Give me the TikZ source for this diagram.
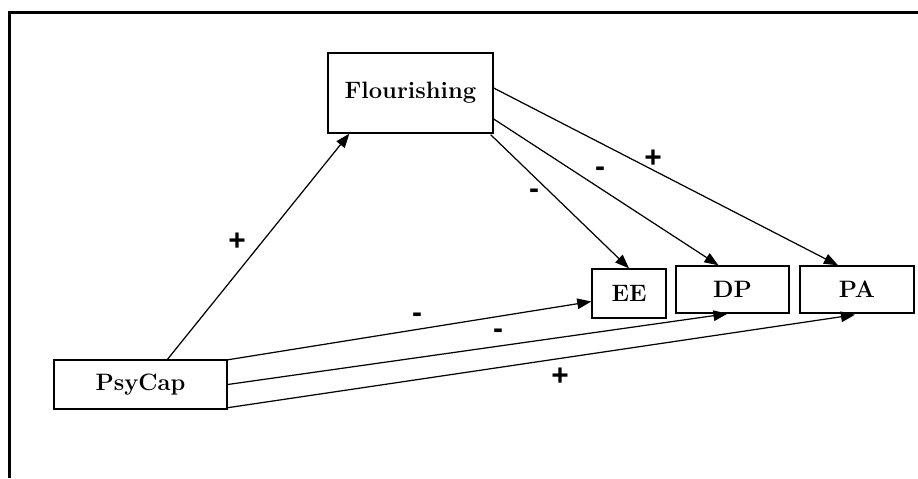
\documentclass[tikz,border=0pt]{standalone}
\usepackage{fontspec}
\newfontfamily\signfont{Liberation Sans}
\usetikzlibrary{arrows.meta,positioning,calc}

\begin{document}
\begin{tikzpicture}[
    x=0.02cm, y=-0.02cm,
    varnode/.style={draw, line width=0.8pt, font=\fontsize{13.5}{16}\selectfont\bfseries, inner sep=0pt},
    pathline/.style={line width=0.7pt, -{Triangle[length=8pt,width=6pt]}},
    signnode/.style={font=\signfont\bfseries\fontsize{17}{19}\selectfont, inner sep=0pt}
]
\useasboundingbox (0,0) rectangle (918,478);

% Frame (top and left only)
\draw[line width=1.2pt] (9.5,478) -- (9.5,12.5) -- (918,12.5);

% Variables
\node[varnode, minimum width=3.3cm, minimum height=1.6cm] (flour) at (410.5,93) {Flourishing};
\node[varnode, minimum width=3.46cm, minimum height=0.98cm] (psycap) at (140.5,384.5) {PsyCap};
\node[varnode, minimum width=1.48cm, minimum height=0.98cm] (ee) at (629,293.5) {EE};
\node[varnode, minimum width=2.26cm, minimum height=0.94cm] (dp) at (732.5,289.5) {DP};
\node[varnode, minimum width=2.28cm, minimum height=0.94cm] (pa) at (857,289.5) {PA};

% PsyCap -> Flourishing
\draw[pathline] ($(psycap.north)+(27,0)$) -- ($(flour.south west)+(22,0)$);

% Flourishing -> outcomes
\draw[pathline] ($(flour.south east)+(-3,1)$) -- (ee.north);
\draw[pathline] ($(flour.east)+(0,26)$) -- ($(dp.north)+(-14,0)$);
\draw[pathline] ($(flour.east)+(0,-5)$) -- ($(pa.north)+(-19,0)$);

% PsyCap -> outcomes
\draw[pathline] ($(psycap.north east)+(0,0.5)$) -- ($(ee.west)+(0,8)$);
\draw[pathline] (psycap.east) -- ($(dp.south)+(-5,0)$);
\draw[pathline] ($(psycap.south east)+(0,-2)$) -- ($(pa.south)+(-2,1)$);

% Signs
\node[signnode] (s1) at (237,242) {+};
\node[signnode] (s2) at (534,194) {-};
\node[signnode] (s3) at (600,172) {-};
\node[signnode] (s4) at (653,159) {+};
\node[signnode] (s5) at (417,318) {-};
\node[signnode] (s6) at (498,334) {-};
\node[signnode] (s7) at (560,377) {+};

\end{tikzpicture}
\end{document}
